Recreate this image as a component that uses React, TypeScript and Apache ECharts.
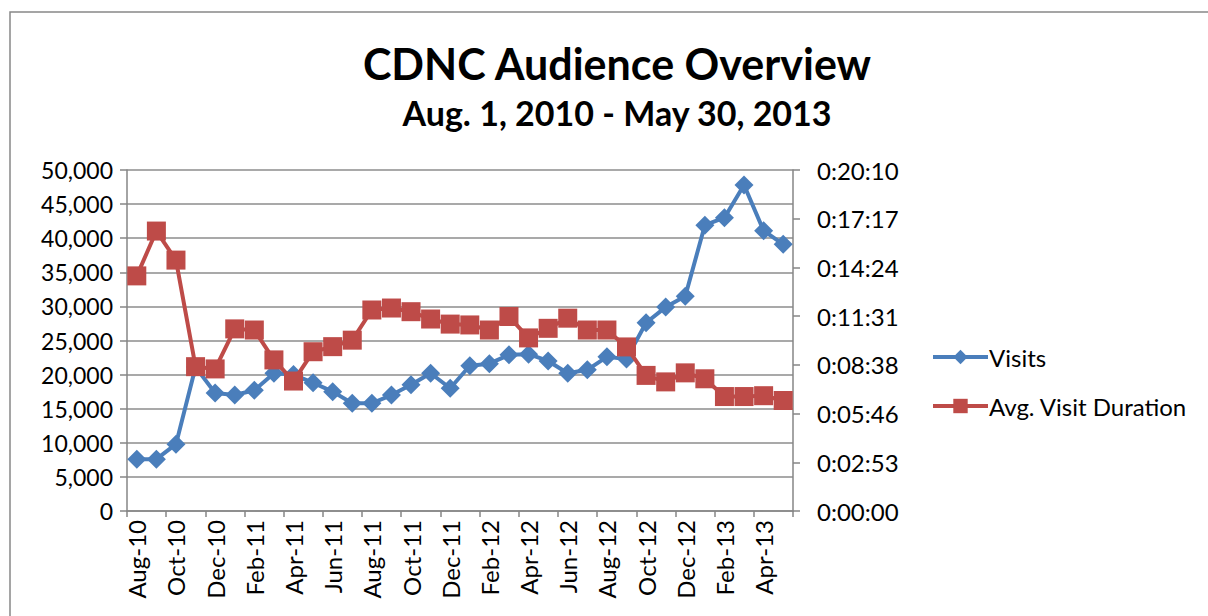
import React, { useEffect, useRef } from "react";
import * as echarts from "echarts";

const months = [
  "Aug-10", "Sep-10", "Oct-10", "Nov-10", "Dec-10",
  "Jan-11", "Feb-11", "Mar-11", "Apr-11", "May-11", "Jun-11", "Jul-11", "Aug-11", "Sep-11", "Oct-11", "Nov-11", "Dec-11",
  "Jan-12", "Feb-12", "Mar-12", "Apr-12", "May-12", "Jun-12", "Jul-12", "Aug-12", "Sep-12", "Oct-12", "Nov-12", "Dec-12",
  "Jan-13", "Feb-13", "Mar-13", "Apr-13", "May-13",
];

const visits = [
  7600, 7600, 9800, 21100, 17300,
  17000, 17700, 20200, 20000, 18800, 17500, 15800, 15800, 17000, 18500, 20200, 18000,
  21300, 21600, 22900, 23000, 22000, 20200, 20700, 22600, 22300, 27600, 29900, 31500,
  41900, 43000, 47800, 41100, 39100,
];

// average visit duration in seconds
const avgDuration = [
  834, 993, 890, 512, 504,
  646, 642, 536, 461, 565, 583, 606, 713, 720, 707, 681, 663,
  660, 642, 690, 614, 648, 684, 642, 642, 582, 481, 458, 490,
  469, 406, 406, 409, 392,
];

const titleText = "CDNC Audience Overview";
const subtitleText = "Aug. 1, 2010 - May 30, 2013";
const seriesNames = ["Visits", "Avg. Visit Duration"];

const FONT = "Lato, 'Open Sans', sans-serif";

function fmtDuration(v: number): string {
  const s = Math.round(v);
  const h = Math.floor(s / 3600);
  const m = Math.floor((s % 3600) / 60);
  const sec = s % 60;
  return `${h}:${String(m).padStart(2, "0")}:${String(sec).padStart(2, "0")}`;
}

export default function App() {
  const ref = useRef<HTMLDivElement>(null);
  useEffect(() => {
    if (!ref.current) return;
    const chart = echarts.init(ref.current, null, { renderer: "svg" });
    const axisGray = "#868686";
    chart.setOption({
      animation: false,
      backgroundColor: "#ffffff",
      textStyle: { fontFamily: FONT },
      title: [
        {
          text: titleText,
          left: 612,
          textAlign: "center",
          top: 37,
          textStyle: { fontFamily: FONT, fontWeight: "bold", fontSize: 43, color: "#000" },
        },
        {
          text: subtitleText,
          left: 612,
          textAlign: "center",
          top: 90,
          textStyle: { fontFamily: FONT, fontWeight: "bold", fontSize: 34, color: "#000" },
        },
      ],
      graphic: [
        {
          type: "rect",
          shape: { x: 10, y: 12, width: 1400, height: 800 },
          style: { fill: "none", stroke: "#888888", lineWidth: 1.5 },
          silent: true,
        },
      ],
      legend: {
        orient: "vertical",
        left: 926,
        top: 340,
        itemWidth: 55,
        itemHeight: 18,
        itemGap: 25,
        lineStyle: { width: 4 },
        textStyle: { fontFamily: FONT, fontSize: 24, color: "#000", padding: [0, 0, 0, -4] },
        data: seriesNames,
      },
      grid: { left: 127, right: 415, top: 170, bottom: 105, containLabel: false },
      xAxis: {
        type: "category",
        data: months,
        boundaryGap: true,
        axisLine: { lineStyle: { color: axisGray, width: 1.5 } },
        axisTick: { show: true, interval: 1, length: 6, lineStyle: { color: axisGray, width: 1.5 } },
        axisLabel: {
          interval: 1,
          rotate: 90,
          fontFamily: FONT,
          fontSize: 24,
          color: "#000",
          margin: 9,
        },
        splitLine: { show: false },
      },
      yAxis: [
        {
          type: "value",
          min: 0,
          max: 50000,
          interval: 5000,
          position: "left",
          axisLine: { show: true, lineStyle: { color: axisGray, width: 1.5 } },
          axisTick: { show: true, length: 7, lineStyle: { color: axisGray, width: 1.5 } },
          axisLabel: {
            fontFamily: FONT,
            fontSize: 23,
            color: "#000",
            margin: 14,
            formatter: (v: number) => v.toLocaleString("en-US"),
          },
          splitLine: { show: true, lineStyle: { color: "#8c8c8c", width: 1.5 } },
        },
        {
          type: "value",
          min: 0,
          max: 1209.6,
          interval: 172.8,
          position: "right",
          axisLine: { show: true, lineStyle: { color: axisGray, width: 1.5 } },
          axisTick: { show: true, length: 7, lineStyle: { color: axisGray, width: 1.5 } },
          axisLabel: {
            fontFamily: FONT,
            fontSize: 24,
            color: "#000",
            margin: 24,
            formatter: (v: number) => fmtDuration(v),
          },
          splitLine: { show: false },
        },
      ],
      series: [
        {
          name: seriesNames[0],
          type: "line",
          yAxisIndex: 0,
          data: visits,
          symbol: "diamond",
          symbolSize: 19,
          showSymbol: true,
          showAllSymbol: true,
          lineStyle: { color: "#4a7ebb", width: 4 },
          itemStyle: { color: "#4a7ebb" },
          z: 2,
        },
        {
          name: seriesNames[1],
          type: "line",
          yAxisIndex: 1,
          data: avgDuration,
          symbol: "rect",
          symbolSize: 19,
          showSymbol: true,
          showAllSymbol: true,
          lineStyle: { color: "#be4b48", width: 4 },
          itemStyle: { color: "#be4b48" },
          z: 3,
        },
      ],
    });
    return () => chart.dispose();
  }, []);
  return (
    <div
      ref={ref}
      style={{ position: "fixed", left: 0, top: 0, width: 1208, height: 616 }}
    />
  );
}
